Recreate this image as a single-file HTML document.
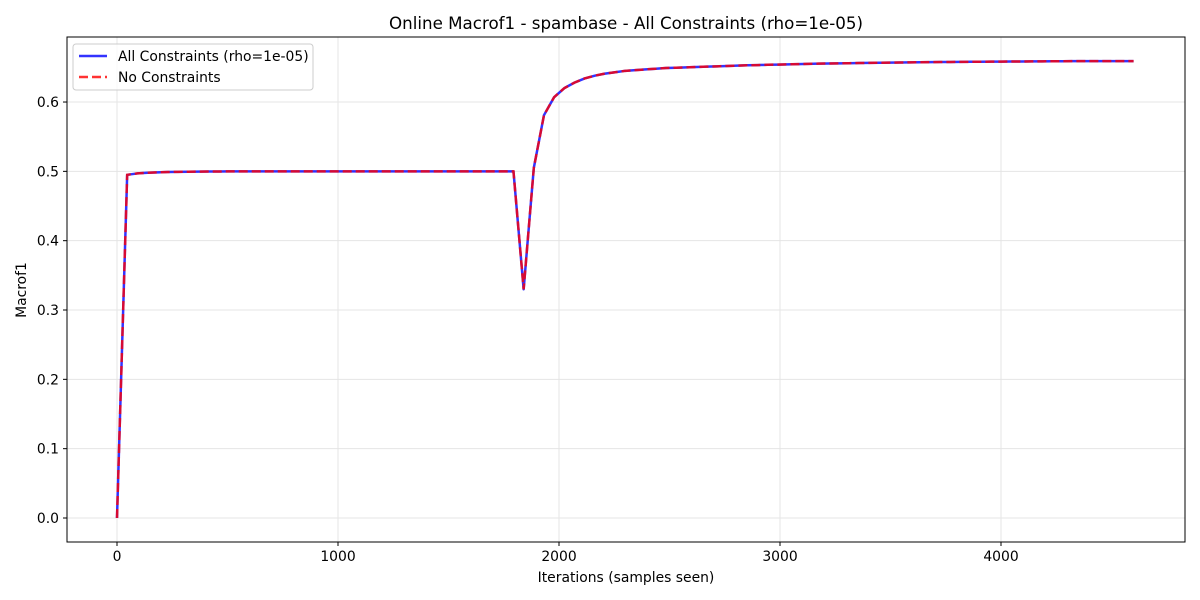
<!DOCTYPE html>
<html><head><meta charset="utf-8"><style>
body{margin:0;background:#fff}
svg{display:block;font-family:"DejaVu Sans","Liberation Sans",sans-serif}
</style></head><body>
<svg id="chart" width="1200" height="600">
<rect width="1200" height="600" fill="#fff"/>
<g id="grid"></g>
<g id="ticks"></g>
<g id="series"></g>
<rect x="67" y="37" width="1118" height="505" fill="none" stroke="#000" stroke-width="1"/>
<text x="626" y="29" font-size="16.7" text-anchor="middle">Online Macrof1 - spambase - All Constraints (rho=1e-05)</text>
<text x="626" y="582" font-size="13.9" text-anchor="middle">Iterations (samples seen)</text>
<text x="26" y="290" font-size="13.9" text-anchor="middle" transform="rotate(-90 26 290)">Macrof1</text>
<g>
<rect x="73" y="44" width="240" height="46" rx="3" fill="#fff" fill-opacity="0.8" stroke="#ccc"/>
<line x1="79" y1="56" x2="107" y2="56" stroke="#0000ff" stroke-opacity="0.8" stroke-width="2.5"/>
<text x="118" y="61" font-size="13.9">All Constraints (rho=1e-05)</text>
<line x1="79" y1="77" x2="107" y2="77" stroke="#ff0000" stroke-opacity="0.8" stroke-width="2.5" stroke-dasharray="9,4"/>
<text x="118" y="82" font-size="13.9">No Constraints</text>
</g>
</svg>
<script>
const xTicks=[0,1000,2000,3000,4000];
const yTicks=[0.0,0.1,0.2,0.3,0.4,0.5,0.6];
const yTickLabels=["0.0","0.1","0.2","0.3","0.4","0.5","0.6"];
const step=46;
const allConstraints=[0,0.495,0.497,0.498,0.4985,0.499,0.4993,0.4995,0.4996,0.4997,0.4998,
0.5,0.5,0.5,0.5,0.5,0.5,0.5,0.5,0.5,0.5,0.5,0.5,0.5,0.5,0.5,0.5,0.5,0.5,0.5,0.5,0.5,0.5,0.5,0.5,0.5,0.5,0.5,0.5,0.5,
0.330,0.505,0.581,0.607,0.620,0.628,0.634,0.638,0.641,0.643,0.645,0.646,0.647,0.648,0.649,0.6495,0.650,0.6505,0.651,0.6515,
0.652,0.6525,0.653,0.6533,0.6537,0.654,0.6543,0.6547,0.655,0.6553,0.6556,0.6558,0.656,0.6562,0.6564,0.6566,0.6568,0.657,0.6572,0.6574,
0.6576,0.6577,0.6578,0.6579,0.658,0.6581,0.6582,0.6583,0.6584,0.6585,0.6586,0.6587,0.6588,0.6588,0.6589,0.6589,0.659,0.659,0.659,0.659,0.659];
const noConstraints=allConstraints.slice();
const X=v=>117+v*0.221;
const Y=v=>518-v*693.3;
const NS="http://www.w3.org/2000/svg";
function mk(tag,attrs,parent){const e=document.createElementNS(NS,tag);for(const k in attrs)e.setAttribute(k,attrs[k]);parent.appendChild(e);return e;}
const grid=document.getElementById('grid'),ticks=document.getElementById('ticks'),series=document.getElementById('series');
xTicks.forEach(t=>{
 const g=mk('line',{x1:X(t),x2:X(t),y1:37,y2:542,stroke:'#e5e5e5','stroke-width':1},grid);
 
 
 const tk=mk('line',{x1:X(t),x2:X(t),y1:542,y2:546,stroke:'#000'},ticks);
 
 
 const tx=mk('text',{x:X(t),y:561,'font-size':13.9,'text-anchor':'middle'},ticks);
 tx.textContent=String(t);
 
 
});
yTicks.forEach((t,i)=>{
 const g=mk('line',{x1:67,x2:1185,y1:Y(t),y2:Y(t),stroke:'#e5e5e5','stroke-width':1},grid);
 
 
 const tk=mk('line',{x1:63,x2:67,y1:Y(t),y2:Y(t),stroke:'#000'},ticks);
 
 
 const tx=mk('text',{x:59,y:Y(t)+5,'font-size':13.9,'text-anchor':'end'},ticks);
 tx.textContent=yTickLabels[i];
 
 
});
function pts(arr){return arr.map((v,i)=>X(i*step).toFixed(2)+','+Y(v).toFixed(2)).join(' ');}
const l1=mk('polyline',{points:pts(allConstraints),fill:'none',stroke:'#0000ff','stroke-opacity':0.8,'stroke-width':2.5,'stroke-linejoin':'round'},series);


const l2=mk('polyline',{points:pts(noConstraints),fill:'none',stroke:'#ff0000','stroke-opacity':0.8,'stroke-width':2.5,'stroke-dasharray':'9,4'},series);


</script>
</body></html>
